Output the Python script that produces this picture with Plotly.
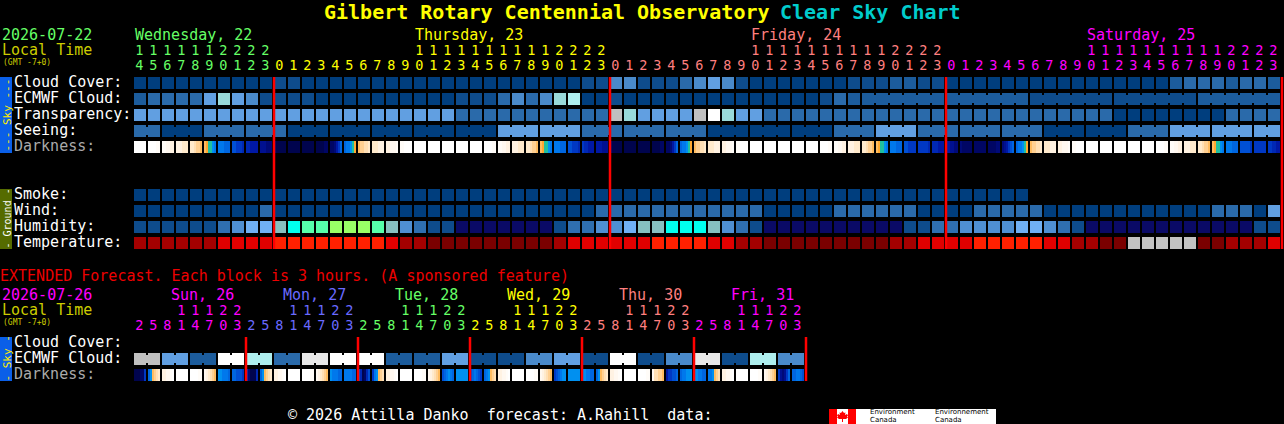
import plotly.graph_objects as go

# ---------- data ----------
blue_levels = ["#003e7e", "#0e4c8c", "#1c5c9c", "#2a6aaa", "#4a8aca", "#619fe1",
               "#99d9d9", "#aeeeee", "#c0c0c0", "#e8e8e8", "#ffffff"]
humid_levels = ["#0a0a66", "#0e4c8c", "#2f6fb0", "#4f8fd2", "#70b0f4", "#86c0c0",
                "#00ffee", "#55ffaa", "#99ff66"]
temp_levels = ["#7a0000", "#a40000", "#e00000", "#ff2000", "#c2c2c2"]
dark_levels = {"W": "#ffffff", "V": "#fffcf8", "U": "#fff8f0", "T": "#fff2e2", "S": "#ffeacc",
               "R": "#ffdfb4", "Q": "#ffd092", "P": "#ffbc60", "O": "#ffa830", "G": "#20c0a0",
               "A": "#0090f0", "B": "#0078ec", "C": "#0066e0", "D": "#0050d4", "E": "#0038c4",
               "F": "#0028b4", "H": "#0018a4", "I": "#001090", "J": "#000a78", "K": "#000664",
               "L": "#00044e"}

cloud_cover = [0,0,0,0,0,0,0,0,0,0,1,1,0,0,0,0,0,0,0,0,0,0,0,0,0,0,0,0,0,0,0,0,1,1,
               4,4,1,1,1,3,4,5,4,1,0,0,0,0,0,0,0,1,1,1,2,2,1,1,
               0,0,0,0,0,0,0,0,0,0,0,0,0,0,0,0,2,3,3,3,2,3,3,2]
ecmwf_hourly = [2,3,3,3,3,5,6,5,4,1,1,1,1,0,0,0,0,0,0,0,0,0,0,1,1,1,3,4,3,4,6,7,
                0,0,1,0,0,0,0,0,0,0,0,0,0,0,0,0,0,1,3,2]
ecmwf_six_hourly = [2, 2, 1, 1, 2]
transparency = [5,5,5,5,5,5,5,5,5,5,5,5,5,5,5,5,5,5,5,5,5,5,5,3,3,3,3,3,3,3,3,3,3,3,
                8,6,5,5,5,5,8,10,6,5,5,3,3,3,3,3,3,3,3,3,3,3,3,3,
                3,3,3,3,3,3,3,3,3,3,3,3,0,0,0,0,0,0,0,0,3,3,3,3]
seeing_values = [3,0,3,3,0,0,0,0,0,5,5,3,3,3,0,0,0,3,5,3,3,3,0,0,3,5,5,5]
seeing_spans  = [2,3,3,3,3,3,3,3,3,3,3,3,3,3,3,3,3,3,3,3,3,3,3,3,3,3,3,2]
darkness = ["WWWWWW","WWWWVV","VVUUTT","TTTSSS","SSRQQP","POGGAB","BBBCCC","DDEEEF","FFHHHH","IIIJJJ",
            "KLLLLL","LLLLLL","LLLLLL","LLLLKK","KKJHEC","CBBAGO","PQQRRS","SSSTTT","TTUUUV","VVWWWW",
            "WWWWWW","WWWWWW","WWWWWW","WWWWWW",
            "WWWWWW","WWWWVV","VVUUTT","TTTSSS","SSRQQP","POGGAB","BBBCCC","DDEEEF","EFFHHH","HHHIII",
            "KLLLLL","LLLLLL","LLLLLL","LLLLKK","KKJHEC","CBBAGO","PQQRRS","SSSTTT","TTUUUV","VVWWWW",
            "WWWWWW","WWWWWW","WWWWWW","WWWWWW",
            "WWWWWW","WWWWVV","VVUUTT","TTTSSS","SSRQQP","POGGAB","BBBCCC","DDEEEE","EEEEEF","FFFHHH",
            "HHIIJJ","JKKKKK","KKKKKK","KKKKJJ","JIHEDC","CBBAGO","PQQRRS","SSSTTT","TTUUUV","VVWWWW",
            "WWWWWW","WWWWWW","WWWWWW","WWWWWW",
            "WWWWWW","WWWWVV","VVUUTT","TTTSSS","SSRQQP","POGGAB","BBBCCC","DDDDDE","EEEEEE","EEFFHH"]

smoke = [0] * 64
wind = [0,0,0,0,0,0,0,0,0,3,0,0,0,0,0,0,0,0,0,0,0,0,0,0,0,0,0,0,0,0,0,0,0,3,
        3,3,3,3,3,3,3,3,3,3,3,0,0,0,0,0,3,3,3,3,3,3,0,0,
        0,0,3,3,3,3,3,0,0,0,0,0,0,0,0,0,0,0,0,3,3,3,0,5]
humidity = [1,1,1,1,1,1,2,3,4,4,5,6,7,7,8,8,8,7,5,3,2,1,1,0,0,0,0,0,0,0,1,2,2,3,
            3,4,5,5,6,6,6,5,3,2,1,0,0,0,0,0,0,0,0,0,0,1,1,2,
            2,3,3,3,3,4,4,3,2,1,0,0,0,0,0,0,0,0,0,0,0,0,1,1]
temperature = [1,1,1,1,1,1,2,2,2,2,3,3,3,3,3,3,3,3,2,1,1,0,0,0,0,0,0,0,0,0,1,2,2,2,
               2,2,2,3,3,3,3,2,2,1,1,0,0,0,0,0,0,0,0,0,1,1,2,2,
               2,2,3,3,3,3,3,2,2,1,1,0,0,4,4,4,4,4,0,0,1,1,1,2]

ext_ecmwf = [8,5,2,10,7,3,9,10, 10,2,2,5,1,1,4,5, 1,10,1,4,9,1,7,4]
ext_darkness = ["LLLKKE","CAPQRS","TTUUVW","WWWWWW","WWWWVV","UTSRQP","AABBBC","CCDDDE",
                "FJLLLF","CAPQRS","TTUUVW","WWWWWW","WWWWVV","UTSRQP","ABBBCC","BBBBCC",
                "DFLKFD","EBAPQR","TTUUVW","WWWWWW","WWWWVV","UTSRQP","DCBABC","AAAAAA",
                "DCBCDE","CBAPQR","TTUUVW","WWWWWW","WWWWVV","UTSRQP","EDCBAA","AAAAAA",
                "AABBCC","CAPQRS","TTUUVW","WWWWWW","WWWWVV","URRQQP","HEEDDC","CBBAAA",
                "AABBCC","BBAPQR","TTUUVW","WWWWWW","WWWWVV","UTSRQP","EIJIEC","CCBBCD"]

hour_tens = "1111112222          11111111112222          11111111112222          11111111112222"
hour_ones = "4567890123012345678901234567890123012345678901234567890123012345678901234567890123"
ext_hour_tens = "   11122   11122   11122   11122   11122   11122"
ext_hour_ones = "258147032581470325814703258147032581470325814703"

GREEN, YEL, SALMON, MAG, PERI = "#66ff66", "#ffff00", "#ff7f7f", "#ff00ff", "#6a6aff"
hour_colors = [GREEN]*10 + [YEL]*24 + [SALMON]*24 + [MAG]*24
ext_hour_colors = [MAG]*8 + [PERI]*8 + [GREEN]*8 + [YEL]*8 + [SALMON]*8 + [MAG]*8
day_breaks = [10, 34, 58, 82]
ext_day_breaks = [8, 16, 24, 32, 40, 48]

W, H = 1284, 424
X0, PITCH, Y0, ROW = 134, 14, 77, 16
MONO = "DejaVu Sans Mono"
BLOCK = 12 / PITCH
BAND = 12 / ROW

traces = []

def row_bars(values, spans, r, palette):
    """One bar per block; a block may span several columns, joined by a narrow bridge."""
    xs, cs, bx, bc = [], [], [], []
    col = 0
    for v, s in zip(values, spans):
        for k in range(s):
            xs.append(col + k + BLOCK / 2)
            cs.append(palette[v])
            if k < s - 1:
                bx.append(col + k + BLOCK + (1 - BLOCK) / 2)
                bc.append(palette[v])
        col += s
    traces.append(go.Bar(x=xs, y=[BAND] * len(xs), base=[r] * len(xs), width=BLOCK,
                         marker=dict(color=cs, line=dict(width=0))))
    if bx:
        traces.append(go.Bar(x=bx, y=[8 / ROW] * len(bx), base=[r + 2 / ROW] * len(bx), width=1 - BLOCK,
                             marker=dict(color=bc, line=dict(width=0))))

def gradient_bars(strips, r):
    n = 6
    xs, cs = [], []
    for i, strip in enumerate(strips):
        for k, ch in enumerate(strip):
            xs.append(i + (k + 0.5) * BLOCK / n)
            cs.append(dark_levels[ch])
    traces.append(go.Bar(x=xs, y=[BAND] * len(xs), base=[r] * len(xs), width=BLOCK / n,
                         marker=dict(color=cs, line=dict(width=0))))

row_bars(cloud_cover, [1] * len(cloud_cover), 0, blue_levels)
row_bars(ecmwf_hourly + ecmwf_six_hourly, [1] * len(ecmwf_hourly) + [6] * len(ecmwf_six_hourly), 1, blue_levels)
row_bars(transparency, [1] * len(transparency), 2, blue_levels)
row_bars(seeing_values, seeing_spans, 3, blue_levels)
gradient_bars(darkness, 4)
row_bars(smoke, [1] * len(smoke), 7, blue_levels)
row_bars(wind, [1] * len(wind), 8, blue_levels)
row_bars(humidity, [1] * len(humidity), 9, humid_levels)
row_bars(temperature, [1] * len(temperature), 10, temp_levels)
row_bars(ext_ecmwf, [2] * len(ext_ecmwf), 17.25, blue_levels)
gradient_bars(ext_darkness, 18.25)

def red_lines(cols, top, bottom):
    xs, ys = [], []
    for c in cols:
        xs += [c, c, None]
        ys += [top, bottom, None]
    traces.append(go.Scatter(x=xs, y=ys, mode="lines", line=dict(color="#ff0000", width=2.5)))

red_lines(day_breaks, 0, 10.75)
red_lines(ext_day_breaks, 16.25, 19)

def digit_row(chars, colors, ypx):
    xs = [i + BLOCK / 2 - 0.04 for i in range(len(chars))]
    y = (ypx - Y0) / ROW
    traces.append(go.Scatter(x=xs, y=[y] * len(chars), mode="text", text=list(chars),
                             textposition="middle center",
                             textfont=dict(family=MONO, size=13.5, color=colors)))

digit_row(hour_tens, hour_colors, 51.5)
digit_row(hour_ones, hour_colors, 66.5)
digit_row(ext_hour_tens, ext_hour_colors, 311.5)
digit_row(ext_hour_ones, ext_hour_colors, 326.5)

def px(x):
    return x / W

def py(y):
    return 1 - y / H

annotations = []

def label(text, x, y, color="#ffffff", size=15, bold=False, family=MONO):
    annotations.append(dict(text=("<b>%s</b>" % text) if bold else text, x=px(x), y=py(y),
                            xref="paper", yref="paper", xanchor="left", yanchor="middle",
                            showarrow=False, borderpad=0, borderwidth=0,
                            font=dict(family=family, size=size, color=color)))

def side(text, y0, y1, color, size):
    annotations.append(dict(text=text.replace(" ", "\u00a0"), x=px(6.5), y=py((y0 + y1) / 2),
                            xref="paper", yref="paper", xanchor="center", yanchor="middle",
                            showarrow=False, textangle=-90, borderpad=0,
                            font=dict(family=MONO, size=size, color=color)))

label("Gilbert Rotary Centennial Observatory", 324, 12, YEL, 20, True)
label("Clear Sky Chart", 780, 12, "#00cccc", 20, True)
label("2026-07-22", 2, 34.5, GREEN)
label("Local Time", 2, 50, "#cccc00")
label("(GMT -7+0)", 3, 62, "#cccc00", 8)
label("Wednesday, 22", 135, 35, GREEN)
label("Thursday, 23", 415, 35, YEL)
label("Friday, 24", 751, 35, SALMON)
label("Saturday, 25", 1087, 35, MAG)
for name, y, c in [("Cloud Cover:", 81.5, "#ffffff"), ("ECMWF Cloud:", 97.5, "#ffffff"),
                   ("Transparency:", 113.5, "#ffffff"), ("Seeing:", 129.5, "#ffffff"),
                   ("Darkness:", 145.5, "#aaaaaa"), ("Smoke:", 193.5, "#ffffff"),
                   ("Wind:", 209.5, "#ffffff"), ("Humidity:", 225.5, "#ffffff"),
                   ("Temperature:", 241.5, "#ffffff"), ("Cloud Cover:", 341.5, "#ffffff"),
                   ("ECMWF Cloud:", 357.5, "#ffffff"), ("Darkness:", 373.5, "#aaaaaa")]:
    label(name, 14, y, c)
label("EXTENDED Forecast. Each block is 3 hours. (A sponsored feature)", 0, 276, "#ee0000")
label("2026-07-26", 2, 295, MAG)
label("Local Time", 2, 310, "#cccc00")
label("(GMT -7+0)", 3, 322, "#cccc00", 8)
for name, x, c in [("Sun, 26", 171, MAG), ("Mon, 27", 283, PERI), ("Tue, 28", 395, GREEN),
                   ("Wed, 29", 507, YEL), ("Thu, 30", 619, SALMON), ("Fri, 31", 731, MAG)]:
    label(name, x, 295, c)
label("© 2026 Attilla Danko\u00a0\u00a0forecast: A.Rahill\u00a0\u00a0data:", 288, 415)
side("--- Sky ---", 77, 153, "#ffee00", 11)
side("- Ground -", 189, 249, "#ffffff", 10)
side("- Sky -", 337, 381, "#ffee00", 11)
LOGO_FONT = "DejaVu Sans"
label("Environment", 870, 412.3, "#000000", 7, family=LOGO_FONT)
label("Canada", 870, 420.3, "#000000", 7, family=LOGO_FONT)
label("Environnement", 935, 412.3, "#000000", 7, family=LOGO_FONT)
label("Canada", 935, 420.3, "#000000", 7, family=LOGO_FONT)

def rect(x0, y0, x1, y1, color):
    return dict(type="rect", xref="paper", yref="paper", x0=px(x0), x1=px(x1), y0=py(y0), y1=py(y1),
                fillcolor=color, line=dict(width=0), layer="below")

leaf = [(842.5, 411), (844, 413), (845.5, 412.5), (845, 415), (847, 414), (848, 415.5), (847, 416.5),
        (848, 417.5), (846, 419), (843, 419), (843, 422), (842, 422), (842, 419), (839, 419),
        (837, 417.5), (838, 416.5), (837, 415.5), (838, 414), (840, 415), (839.5, 412.5), (841, 413)]
leaf_path = "M " + " L ".join("%.5f,%.5f" % (px(a), py(b)) for a, b in leaf) + " Z"

shapes = [
    rect(0, 77, 12, 153, "#0a5fe8"),
    rect(0, 189, 12, 249, "#556b00"),
    rect(0, 337, 12, 381, "#0a5fe8"),
    rect(829, 409, 996, 424, "#ffffff"),
    rect(829, 409, 837, 424, "#ff0000"),
    rect(848, 409, 856, 424, "#ff0000"),
    dict(type="path", path=leaf_path, xref="paper", yref="paper", fillcolor="#ff0000",
         line=dict(width=0), layer="below"),
]

fig = go.Figure(traces)
fig.update_layout(
    width=W, height=H, margin=dict(l=0, r=0, t=0, b=0, pad=0), autosize=False,
    paper_bgcolor="#000000", plot_bgcolor="#000000", showlegend=False,
    barmode="overlay", hovermode=False, bargap=0,
    annotations=annotations, shapes=shapes,
    xaxis=dict(visible=False, range=[-X0 / PITCH, (W - X0) / PITCH], fixedrange=True, domain=[0, 1]),
    yaxis=dict(visible=False, range=[(H - Y0) / ROW, -Y0 / ROW], fixedrange=True, domain=[0, 1]),
)
fig.update_traces(selector=dict(type="bar"), opacity=1)

fig.write_html(
    "out.html",
    config={"displayModeBar": False},
    post_script="document.body.style.margin='0';document.body.style.background='#000';document.body.style.overflow='hidden';",
)
